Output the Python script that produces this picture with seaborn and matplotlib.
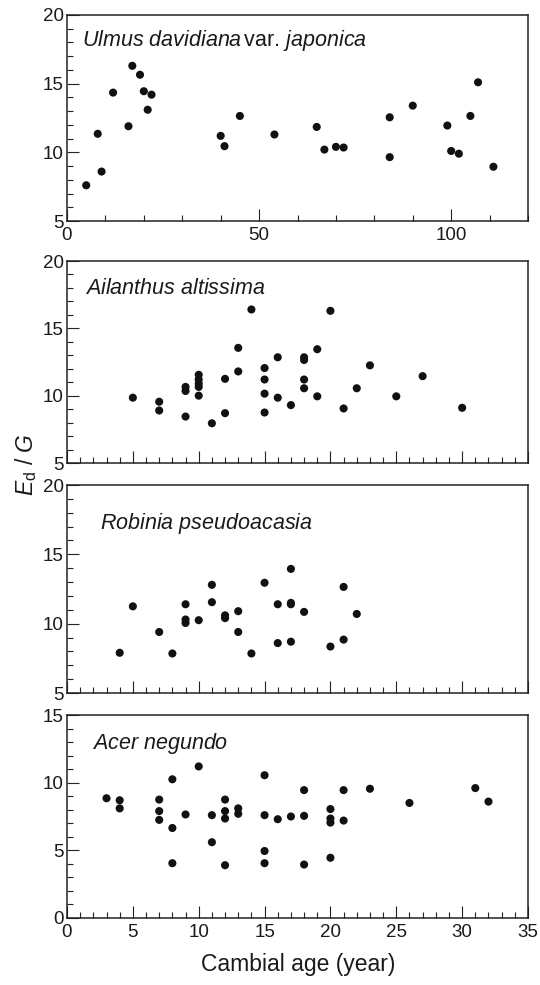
import matplotlib
matplotlib.use("Agg")
import matplotlib.pyplot as plt
from matplotlib.ticker import MultipleLocator
import seaborn as sns
import pandas as pd

# ---------------- data ----------------
ulmus_age = [5, 8, 9, 12, 16, 17, 19, 20, 21, 22, 40, 41, 45, 54, 65, 67, 70, 72,
             84, 84, 90, 99, 100, 102, 105, 107, 111]
ulmus_ratio = [7.6, 11.35, 8.6, 14.35, 11.9, 16.3, 15.65, 14.45, 13.1, 14.2, 11.2, 10.45,
               12.65, 11.3, 11.85, 10.2, 10.4, 10.35, 12.55, 9.65, 13.4, 11.95, 10.1,
               9.9, 12.65, 15.1, 8.95]

ailanthus_age = [5, 7, 7, 9, 9, 9, 10, 10, 10, 10, 10, 11, 12, 12, 13, 13, 14, 15, 15, 15,
                 15, 16, 16, 17, 18, 18, 18, 18, 19, 19, 20, 21, 22, 23, 25, 27, 30]
ailanthus_ratio = [9.85, 9.55, 8.9, 10.65, 10.35, 8.45, 11.55, 11.2, 10.9, 10.65, 10.0,
                   7.95, 11.25, 8.7, 13.55, 11.8, 16.4, 12.05, 11.2, 10.15, 8.75, 12.85,
                   9.85, 9.3, 12.85, 12.65, 11.2, 10.55, 13.45, 9.95, 16.3, 9.05, 10.55,
                   12.25, 9.95, 11.45, 9.1]

robinia_age = [4, 5, 7, 8, 9, 9, 9, 10, 11, 11, 12, 12, 13, 13, 14, 15, 16, 16, 17, 17,
               17, 17, 18, 20, 21, 21, 22]
robinia_ratio = [7.9, 11.25, 9.4, 7.85, 11.4, 10.3, 10.05, 10.25, 12.8, 11.55, 10.6, 10.4,
                 10.9, 9.4, 7.85, 12.95, 11.4, 8.6, 13.95, 11.5, 11.4, 8.7, 10.85, 8.35,
                 12.65, 8.85, 10.7]

acer_age = [3, 4, 4, 7, 7, 7, 8, 8, 8, 9, 10, 11, 11, 12, 12, 12, 12, 13, 13, 15, 15, 15,
            15, 16, 17, 18, 18, 18, 20, 20, 20, 20, 21, 21, 23, 26, 31, 32]
acer_ratio = [8.85, 8.7, 8.1, 8.75, 7.9, 7.25, 10.25, 6.65, 4.05, 7.65, 11.2, 7.6, 5.6,
              8.75, 7.9, 7.35, 3.9, 8.1, 7.7, 10.55, 7.6, 4.95, 4.05, 7.3, 7.5, 9.45,
              7.55, 3.95, 8.05, 7.35, 7.05, 4.45, 9.45, 7.2, 9.55, 8.5, 9.6, 8.6]

species_labels = [
    r"$\mathit{Ulmus\ davidiana}\,$var. $\mathit{japonica}$",
    r"$\mathit{Ailanthus\ altissima}$",
    r"$\mathit{Robinia\ pseudoacasia}$",
    r"$\mathit{Acer\ negundo}$",
]
x_label = "Cambial age (year)"
y_label = r"$E_{\mathrm{d}}$ / $G$"

# ---------------- style ----------------
sns.set_style("ticks")
plt.rcParams["font.family"] = ["Liberation Sans", "DejaVu Sans"]
plt.rcParams["mathtext.fontset"] = "custom"
plt.rcParams["mathtext.rm"] = "Liberation Sans"
plt.rcParams["mathtext.it"] = "Liberation Sans:italic"
plt.rcParams["mathtext.bf"] = "Liberation Sans:bold"

W, H = 540, 985
fig = plt.figure(figsize=(W / 100, H / 100), dpi=100)

def px_axes(left, right, top, bottom):
    return fig.add_axes([left / W, 1 - bottom / H, (right - left) / W, (bottom - top) / H])

frame_col = "#222222"
panels = [
    dict(top=15, bottom=221, x=ulmus_age, y=ulmus_ratio, xlim=(0, 120), ylim=(5, 20),
         xmaj=50, xmin=10, ymaj=5, lab=species_labels[0], tx=0.032, ty=0.878, xt=True),
    dict(top=261, bottom=463, x=ailanthus_age, y=ailanthus_ratio, xlim=(0, 35), ylim=(5, 20),
         xmaj=5, xmin=1, ymaj=5, lab=species_labels[1], tx=0.039, ty=0.866, xt=False),
    dict(top=485, bottom=693, x=robinia_age, y=robinia_ratio, xlim=(0, 35), ylim=(5, 20),
         xmaj=5, xmin=1, ymaj=5, lab=species_labels[2], tx=0.072, ty=0.817, xt=False),
    dict(top=715, bottom=918, x=acer_age, y=acer_ratio, xlim=(0, 35), ylim=(0, 15),
         xmaj=5, xmin=1, ymaj=5, lab=species_labels[3], tx=0.054, ty=0.862, xt=True),
]

for p in panels:
    ax = px_axes(67, 528, p["top"], p["bottom"])
    df = pd.DataFrame({"age": p["x"], "ratio": p["y"]})
    sns.scatterplot(data=df, x="age", y="ratio", ax=ax, color="#111111", s=34,
                    edgecolor="none", linewidth=0, zorder=3, legend=False)
    ax.set_xlim(*p["xlim"])
    ax.set_ylim(*p["ylim"])
    ax.xaxis.set_major_locator(MultipleLocator(p["xmaj"]))
    ax.xaxis.set_minor_locator(MultipleLocator(p["xmin"]))
    ax.yaxis.set_major_locator(MultipleLocator(p["ymaj"]))
    ax.yaxis.set_minor_locator(MultipleLocator(1))
    ax.tick_params(which="both", direction="in", top=False, right=False,
                   color=frame_col, width=0.8, labelsize=13.5, labelcolor="#1a1a1a")
    ax.tick_params(which="major", length=8.5)
    ax.tick_params(which="minor", length=4.3)
    ax.tick_params(axis="x", which="major", pad=4.5)
    ax.tick_params(axis="y", which="major", pad=2.5)
    if not p["xt"]:
        ax.tick_params(axis="x", labelbottom=False)
    ax.set_xlabel("")
    ax.set_ylabel("")
    for s in ax.spines.values():
        s.set_color(frame_col)
        s.set_linewidth(1.1)
    ax.text(p["tx"], p["ty"], p["lab"], transform=ax.transAxes, fontsize=15.5,
            va="center", ha="left", color="#1a1a1a")

fig.text(298 / W, 1 - 965 / H, x_label, ha="center", va="center", fontsize=16.5,
         color="#1a1a1a")
fig.text(26 / W, 1 - 465 / H, y_label, ha="center", va="center", rotation=90,
         fontsize=16.5, color="#1a1a1a")

fig.savefig("out.png", dpi=100)
